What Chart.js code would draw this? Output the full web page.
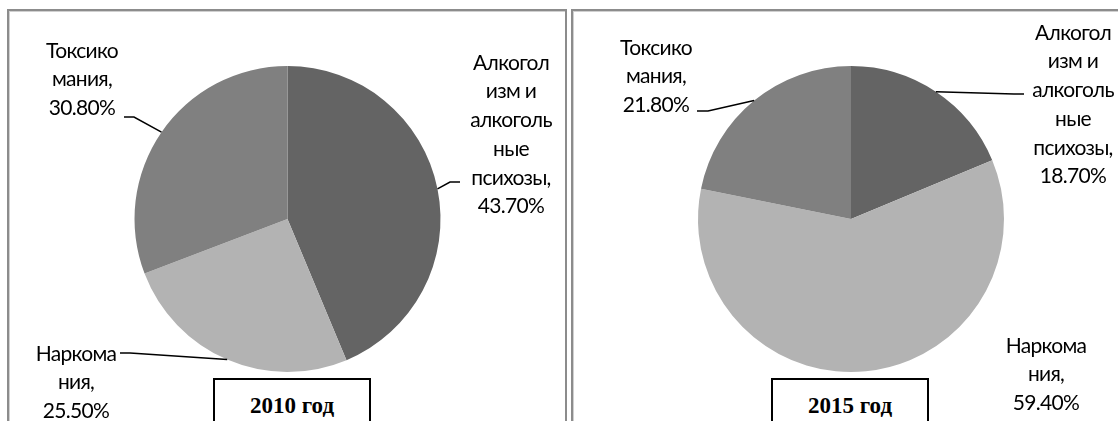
<!DOCTYPE html>
<html>
<head>
<meta charset="utf-8">
<script src="https://cdn.jsdelivr.net/npm/chart.js@4.4.1/dist/chart.umd.min.js"></script>
<style>
  html, body { margin: 0; padding: 0; background: #fff; }
  body { width: 1118px; height: 421px; position: relative; overflow: hidden; }
  .panel { position: absolute; top: 9px; border: 2px solid #8c8c8c; border-bottom: none; box-shadow: inset 1px 1px 0 #d0d0d0; background: #fff; }
  #p1 { left: 7px; width: 556px; height: 430px; }
  #p2 { left: 571px; width: 560px; height: 430px; border-right: none; }
  .cv { position: absolute; left: 0; top: 0; width: 1118px; height: 421px; }
  .ttl { position: absolute; top: 378px; height: 60px; border: 2px solid #000; background: #fff; box-sizing: border-box;
         font-family: "Liberation Serif", "Times New Roman", serif; font-weight: bold; font-size: 23px; color: #000;
         text-align: center; padding-top: 13px; z-index: 5; }
  #t1 { left: 213px; width: 158px; }
  #t2 { left: 771px; width: 158px; }
</style>
</head>
<body>
<div class="panel" id="p1"></div>
<div class="panel" id="p2"></div>
<div class="cv"><canvas id="c1" width="1118" height="421"></canvas></div>
<div class="cv"><canvas id="c2" width="1118" height="421"></canvas></div>
<div class="ttl" id="t1">2010 год</div>
<div class="ttl" id="t2">2015 год</div>
<script>
// ---- data ----
const categories = ['Алкоголизм и алкогольные психозы', 'Наркомания', 'Токсикомания'];
const labelLines = [
  ['Алкогол', 'изм и', 'алкоголь', 'ные', 'психозы,'],
  ['Наркома', 'ния,'],
  ['Токсико', 'мания,']
];
const values2010 = [43.7, 25.5, 30.8];
const values2015 = [18.7, 59.4, 21.8];
const chartTitles = ['2010 год', '2015 год'];
const sliceColors = ['#646464', '#b3b3b3', '#808080'];

const FONT = '21px Lato, "Open Sans", sans-serif';
const LINE_H = 28.7;

const calloutPlugin = {
  id: 'callouts',
  afterDraw(chart, args, opts) {
    const ctx = chart.ctx;
    const meta = chart.getDatasetMeta(0);
    const data = chart.data.datasets[0].data;
    ctx.save();
    ctx.font = FONT;
    try { ctx.letterSpacing = '-0.7px'; } catch (e) {}
    ctx.fillStyle = '#000';
    ctx.textAlign = 'center';
    ctx.textBaseline = 'middle';
    meta.data.forEach((arc, i) => {
      const p = arc.getProps(['x', 'y', 'startAngle', 'endAngle', 'outerRadius'], true);
      const pos = opts.positions[i];
      const lines = labelLines[i].concat([data[i].toFixed(2) + '%']);
      lines.forEach((t, k) => ctx.fillText(t, pos.x, pos.y + k * LINE_H));
      if (pos.leader) {
        const mid = (p.startAngle + p.endAngle) / 2;
        ctx.beginPath();
        ctx.strokeStyle = '#000';
        ctx.lineWidth = 1.5;
        ctx.moveTo(p.x + Math.cos(mid) * p.outerRadius, p.y + Math.sin(mid) * p.outerRadius);
        pos.leader.forEach(pt => ctx.lineTo(pt[0], pt[1]));
        ctx.stroke();
      }
    });
    ctx.restore();
  }
};

function makeChart(id, values, padding, positions) {
  return new Chart(document.getElementById(id), {
    type: 'pie',
    data: {
      labels: categories,
      datasets: [{ data: values, backgroundColor: sliceColors, borderWidth: 0, hoverOffset: 0 }]
    },
    options: {
      responsive: false,
      animation: false,
      layout: { padding: padding },
      plugins: {
        legend: { display: false },
        tooltip: { enabled: false },
        title: { display: false },
        callouts: { positions: positions }
      }
    },
    plugins: [calloutPlugin]
  });
}

makeChart('c1', values2010,
  { left: 134.5, right: 677.5, top: 66, bottom: 49 },
  [
    { x: 511, y: 63, leader: [[450, 182], [460, 182]] },
    { x: 76, y: 354, leader: [[130, 353], [120, 353]] },
    { x: 82, y: 51, leader: [[134, 117], [124, 117]] }
  ]);

makeChart('c2', values2015,
  { left: 698, right: 114, top: 66, bottom: 49 },
  [
    { x: 1073, y: 33, leader: [[1014, 94], [1024, 94]] },
    { x: 1046, y: 346, leader: null },
    { x: 656, y: 48, leader: [[708, 111], [697, 111]] }
  ]);
</script>
</body>
</html>
